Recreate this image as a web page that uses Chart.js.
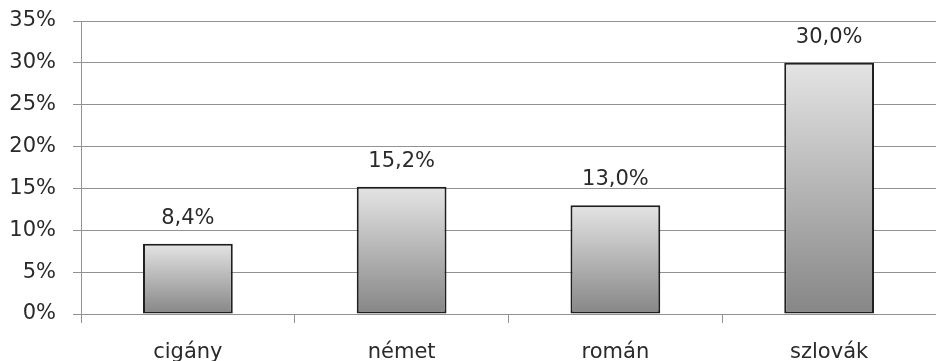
<!DOCTYPE html>
<html>
<head>
<meta charset="utf-8">
<script src="https://cdn.jsdelivr.net/npm/chart.js@4.4.0/dist/chart.umd.min.js"></script>
<style>
html,body{margin:0;padding:0;background:#fff;}
#wrap{width:936px;height:361px;position:relative;}
</style>
</head>
<body>
<div id="wrap"><canvas id="c" width="936" height="361"></canvas></div>
<script>
const categories = ['cigány', 'német', 'román', 'szlovák'];
const shares = [8.4, 15.2, 13.0, 30.0];
const yTicks = [0, 5, 10, 15, 20, 25, 30, 35];

const FONT = '"DejaVu Sans", "Open Sans", sans-serif';
const TEXT = '#2a2a2a';
const GRID = '#929292';

function fmt(v) { return v.toFixed(1).replace('.', ',') + '%'; }

const labelPlugin = {
  id: 'valueLabels',
  afterDatasetsDraw(chart) {
    const ctx = chart.ctx;
    const meta = chart.getDatasetMeta(0);
    ctx.save();
    ctx.font = '21px ' + FONT;
    ctx.fillStyle = TEXT;
    ctx.textAlign = 'center';
    ctx.textBaseline = 'alphabetic';
    meta.data.forEach((bar, i) => {
      ctx.fillText(fmt(shares[i]), bar.x, bar.y - 20);
    });
    ctx.restore();
  }
};

function barGradient(context) {
  const chart = context.chart;
  const y = chart.scales && chart.scales.y;
  if (!y || !chart.chartArea) return '#bbbbbb';
  const v = shares[context.dataIndex];
  const top = y.getPixelForValue(v);
  const bottom = y.getPixelForValue(0);
  const g = chart.ctx.createLinearGradient(0, top, 0, bottom);
  g.addColorStop(0, '#e4e4e4');
  g.addColorStop(1, '#868686');
  return g;
}

new Chart(document.getElementById('c'), {
  type: 'bar',
  data: {
    labels: categories,
    datasets: [{
      data: shares,
      backgroundColor: barGradient,
      borderColor: '#1f1f1f',
      borderWidth: 2,
      borderSkipped: false,
      categoryPercentage: 1,
      barPercentage: 0.42
    }]
  },
  options: {
    responsive: false,
    animation: false,
    devicePixelRatio: 1,
    layout: { padding: { top: 21, right: 0, left: 0, bottom: 0 } },
    plugins: { legend: { display: false }, tooltip: { enabled: false } },
    scales: {
      x: {
        offset: true,
        grid: { offset: true, drawOnChartArea: false, drawTicks: true, tickLength: 9, color: GRID, lineWidth: 1 },
        border: { display: true, color: GRID, width: 1 },
        ticks: { font: { family: FONT, size: 21 }, color: TEXT, padding: 17 },
        afterFit(s) { s.height = 47; s.paddingLeft = 0; s.paddingRight = 0; }
      },
      y: {
        min: 0, max: 35,
        afterBuildTicks(s) { s.ticks = yTicks.map(v => ({ value: v })); },
        grid: { color: GRID, lineWidth: 1, tickLength: 8 },
        border: { display: true, color: GRID, width: 1 },
        ticks: { font: { family: FONT, size: 21 }, color: TEXT, padding: 17, callback: v => v + '%' },
        afterFit(s) { s.width = 81; s.paddingTop = 0; s.paddingBottom = 0; }
      }
    }
  },
  plugins: [labelPlugin]
});
</script>
</body>
</html>
